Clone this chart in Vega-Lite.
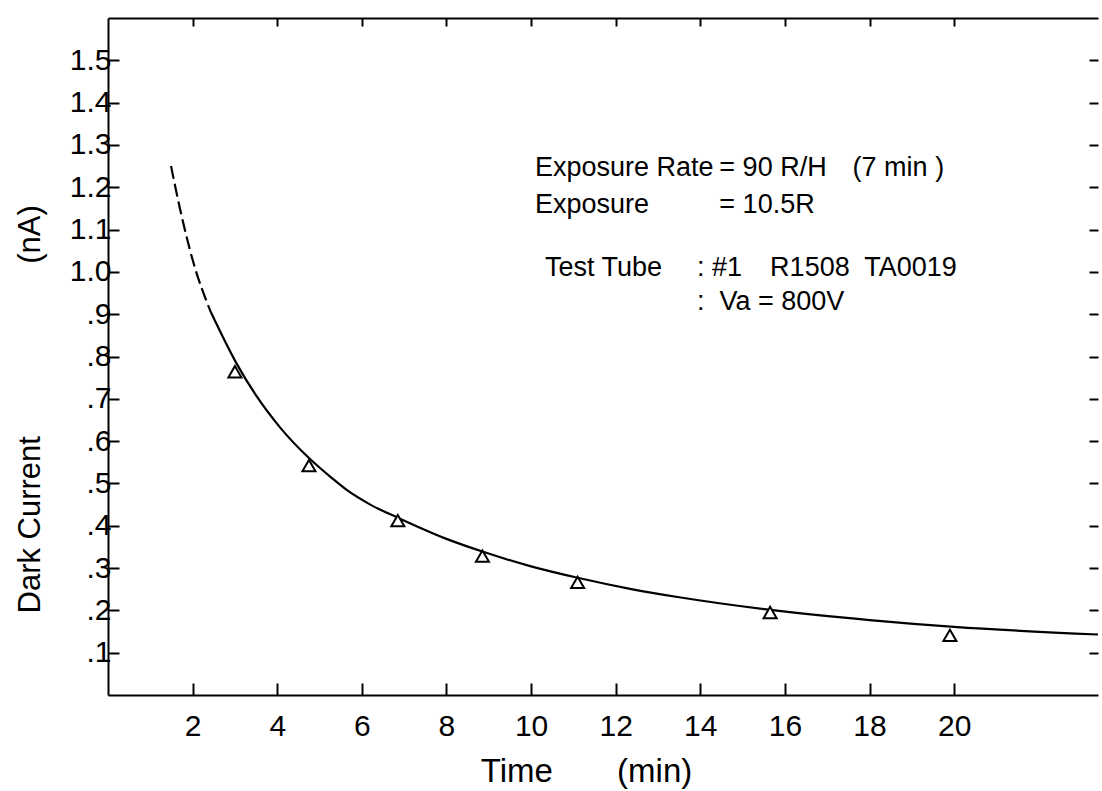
{
  "$schema": "https://vega.github.io/schema/vega-lite/v6.json",
  "width": 990,
  "height": 677,
  "autosize": {"type": "none"},
  "padding": {"left": 108, "top": 18, "right": 4, "bottom": 96},
  "background": "white",
  "config": {
    "view": {"stroke": null},
    "font": "Liberation Sans",
    "text": {"font": "Liberation Sans", "fontSize": 27, "color": "black", "align": "left", "baseline": "middle"},
    "axis": {
      "grid": false,
      "domainColor": "black",
      "domainWidth": 2,
      "tickColor": "black",
      "tickWidth": 2,
      "labelColor": "black",
      "titleColor": "black",
      "labelFont": "Liberation Sans",
      "titleFont": "Liberation Sans",
      "titleFontWeight": "normal"
    }
  },
  "datasets": {
    "dashed": [
      {"time": 1.49, "current": 1.25},
      {"time": 1.7, "current": 1.15},
      {"time": 2.01, "current": 1.025},
      {"time": 2.43, "current": 0.905}
    ],
    "solid": [
      {"time": 2.43, "current": 0.905},
      {"time": 3.03, "current": 0.785},
      {"time": 3.5, "current": 0.708},
      {"time": 4.07, "current": 0.632},
      {"time": 4.75, "current": 0.56},
      {"time": 5.3, "current": 0.512},
      {"time": 5.65, "current": 0.484},
      {"time": 6.2, "current": 0.45},
      {"time": 6.85, "current": 0.419},
      {"time": 8.0, "current": 0.369},
      {"time": 8.85, "current": 0.339},
      {"time": 10.0, "current": 0.304},
      {"time": 11.1, "current": 0.277},
      {"time": 12.34, "current": 0.251},
      {"time": 13.5, "current": 0.231},
      {"time": 15.67, "current": 0.201},
      {"time": 18.0, "current": 0.177},
      {"time": 20.0, "current": 0.161},
      {"time": 23.4, "current": 0.143}
    ],
    "measured": [
      {"time": 3.0, "current": 0.764},
      {"time": 4.75, "current": 0.542},
      {"time": 6.85, "current": 0.412},
      {"time": 8.85, "current": 0.328},
      {"time": 11.1, "current": 0.266},
      {"time": 15.65, "current": 0.195},
      {"time": 19.9, "current": 0.141}
    ],
    "one": [{"k": 1}]
  },
  "resolve": {"axis": {"x": "independent", "y": "independent"}},
  "layer": [
    {
      "data": {"name": "dashed"},
      "mark": {"type": "line", "color": "black", "strokeWidth": 2.2, "strokeDash": [13, 5], "interpolate": "monotone"},
      "encoding": {
        "x": {
          "field": "time", "type": "quantitative",
          "scale": {"domain": [0, 23.4], "nice": false, "zero": false},
          "axis": {
            "orient": "bottom",
            "values": [2, 4, 6, 8, 10, 12, 14, 16, 18, 20],
            "format": "d",
            "tickSize": -12,
            "labelPadding": 28,
            "labelFontSize": 30,
            "title": "Time\u00a0\u00a0\u00a0\u00a0\u00a0\u00a0\u00a0(min)",
            "titleFontSize": 33,
            "titleX": 478,
            "titleY": 76,
            "titleBaseline": "middle"
          }
        },
        "y": {
          "field": "current", "type": "quantitative",
          "scale": {"domain": [0, 1.6], "nice": false, "zero": false},
          "axis": {
            "orient": "left",
            "values": [0.1, 0.2, 0.3, 0.4, 0.5, 0.6, 0.7, 0.8, 0.9, 1.0, 1.1, 1.2, 1.3, 1.4, 1.5],
            "labelExpr": "datum.value >= 1 ? format(datum.value, '.1f') : replace(format(datum.value, '.1f'), '0.', '.')",
            "tickSize": -11,
            "labelPadding": 8,
            "labelFontSize": 30,
            "labelBaseline": "middle",
            "title": "Dark Current\u00a0\u00a0\u00a0\u00a0\u00a0\u00a0\u00a0\u00a0\u00a0\u00a0\u00a0\u00a0\u00a0\u00a0\u00a0\u00a0\u00a0\u00a0\u00a0\u00a0(nA)",
            "titleFontSize": 31,
            "titleAngle": -90,
            "titleAlign": "left",
            "titleBaseline": "middle",
            "titleX": -78,
            "titleY": 595
          }
        }
      }
    },
    {
      "data": {"name": "solid"},
      "mark": {"type": "line", "color": "black", "strokeWidth": 2.2, "interpolate": "monotone"},
      "encoding": {
        "x": {"field": "time", "type": "quantitative", "scale": {"domain": [0, 23.4], "nice": false, "zero": false}, "axis": null},
        "y": {"field": "current", "type": "quantitative", "scale": {"domain": [0, 1.6], "nice": false, "zero": false}, "axis": null}
      }
    },
    {
      "data": {"name": "measured"},
      "mark": {"type": "point", "shape": "triangle-up", "size": 170, "filled": true, "fill": "white", "stroke": "black", "strokeWidth": 2, "opacity": 1},
      "encoding": {
        "x": {
          "field": "time", "type": "quantitative",
          "scale": {"domain": [0, 23.4], "nice": false, "zero": false},
          "axis": {
            "orient": "top",
            "values": [2, 4, 6, 8, 10, 12, 14, 16, 18, 20],
            "labels": false,
            "tickSize": -8,
            "title": null
          }
        },
        "y": {
          "field": "current", "type": "quantitative",
          "scale": {"domain": [0, 1.6], "nice": false, "zero": false},
          "axis": {
            "orient": "right",
            "values": [0.1, 0.2, 0.3, 0.4, 0.5, 0.6, 0.7, 0.8, 0.9, 1.0, 1.1, 1.2, 1.3, 1.4, 1.5],
            "labels": false,
            "domain": false,
            "tickSize": -9,
            "title": null
          }
        }
      }
    },
    {
      "data": {"name": "one"},
      "mark": {"type": "text", "text": "Exposure Rate"},
      "encoding": {
        "x": {"datum": 10.09, "type": "quantitative", "scale": {"domain": [0, 23.4], "nice": false, "zero": false}, "axis": null},
        "y": {"datum": 1.2455, "type": "quantitative", "scale": {"domain": [0, 1.6], "nice": false, "zero": false}, "axis": null}
      }
    },
    {
      "data": {"name": "one"},
      "mark": {"type": "text", "text": "= 90 R/H"},
      "encoding": {
        "x": {"datum": 14.45, "type": "quantitative", "scale": {"domain": [0, 23.4], "nice": false, "zero": false}, "axis": null},
        "y": {"datum": 1.2455, "type": "quantitative", "scale": {"domain": [0, 1.6], "nice": false, "zero": false}, "axis": null}
      }
    },
    {
      "data": {"name": "one"},
      "mark": {"type": "text", "text": "(7 min )"},
      "encoding": {
        "x": {"datum": 17.6, "type": "quantitative", "scale": {"domain": [0, 23.4], "nice": false, "zero": false}, "axis": null},
        "y": {"datum": 1.2455, "type": "quantitative", "scale": {"domain": [0, 1.6], "nice": false, "zero": false}, "axis": null}
      }
    },
    {
      "data": {"name": "one"},
      "mark": {"type": "text", "text": "Exposure"},
      "encoding": {
        "x": {"datum": 10.09, "type": "quantitative", "scale": {"domain": [0, 23.4], "nice": false, "zero": false}, "axis": null},
        "y": {"datum": 1.158, "type": "quantitative", "scale": {"domain": [0, 1.6], "nice": false, "zero": false}, "axis": null}
      }
    },
    {
      "data": {"name": "one"},
      "mark": {"type": "text", "text": "= 10.5R"},
      "encoding": {
        "x": {"datum": 14.45, "type": "quantitative", "scale": {"domain": [0, 23.4], "nice": false, "zero": false}, "axis": null},
        "y": {"datum": 1.158, "type": "quantitative", "scale": {"domain": [0, 1.6], "nice": false, "zero": false}, "axis": null}
      }
    },
    {
      "data": {"name": "one"},
      "mark": {"type": "text", "text": "Test Tube"},
      "encoding": {
        "x": {"datum": 10.33, "type": "quantitative", "scale": {"domain": [0, 23.4], "nice": false, "zero": false}, "axis": null},
        "y": {"datum": 1.0091, "type": "quantitative", "scale": {"domain": [0, 1.6], "nice": false, "zero": false}, "axis": null}
      }
    },
    {
      "data": {"name": "one"},
      "mark": {"type": "text", "text": ": #1"},
      "encoding": {
        "x": {"datum": 13.92, "type": "quantitative", "scale": {"domain": [0, 23.4], "nice": false, "zero": false}, "axis": null},
        "y": {"datum": 1.0091, "type": "quantitative", "scale": {"domain": [0, 1.6], "nice": false, "zero": false}, "axis": null}
      }
    },
    {
      "data": {"name": "one"},
      "mark": {"type": "text", "text": "R1508\u00a0 TA0019"},
      "encoding": {
        "x": {"datum": 15.65, "type": "quantitative", "scale": {"domain": [0, 23.4], "nice": false, "zero": false}, "axis": null},
        "y": {"datum": 1.0091, "type": "quantitative", "scale": {"domain": [0, 1.6], "nice": false, "zero": false}, "axis": null}
      }
    },
    {
      "data": {"name": "one"},
      "mark": {"type": "text", "text": ":\u00a0 Va = 800V"},
      "encoding": {
        "x": {"datum": 13.92, "type": "quantitative", "scale": {"domain": [0, 23.4], "nice": false, "zero": false}, "axis": null},
        "y": {"datum": 0.9288, "type": "quantitative", "scale": {"domain": [0, 1.6], "nice": false, "zero": false}, "axis": null}
      }
    }
  ]
}
